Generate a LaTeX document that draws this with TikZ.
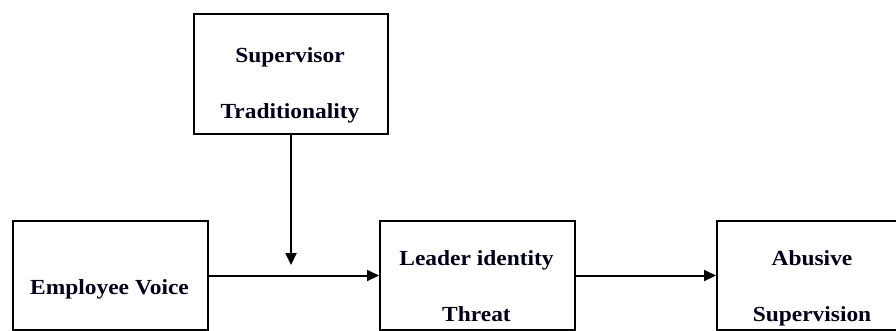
\documentclass[tikz,border=0pt]{standalone}
\usepackage{fontspec}
\setmainfont{Liberation Serif}[FakeStretch=1.09]
\usetikzlibrary{arrows.meta}
\begin{document}
\begin{tikzpicture}[x=1pt,y=-1pt,
  box/.style={draw=black, line width=2pt, fill=white, anchor=north west, inner sep=0pt},
  lbl/.style={font=\fontsize{21.5}{56}\selectfont\bfseries, align=center, anchor=base, inner sep=0pt, text=black!90!blue},
  conn/.style={line width=2pt, -{Triangle[length=12pt,width=11pt]}}]
\useasboundingbox (0,0) rectangle (896,330);
\clip (0,0) rectangle (896,330);
\node[box, minimum width=194pt, minimum height=120pt] (sup) at (193,13) {};
\node[box, minimum width=195pt, minimum height=109pt] (ev) at (12,220) {};
\node[box, minimum width=195pt, minimum height=109pt] (lit) at (379,220) {};
\node[box, minimum width=195pt, minimum height=109pt] (as) at (716,220) {};
\node[lbl] (supt) at (290,118) {Supervisor\\Traditionality};
\node[lbl] (evt) at (109.5,294) {Employee Voice};
\node[lbl] (litt) at (476.5,321) {Leader identity\\Threat};
\node[lbl] (ast) at (812,321) {Abusive\\Supervision};
\coordinate (mod) at (290,265);
\draw[conn] (ev.east) -- (lit.west);
\draw[conn] (sup.south) -- (sup.south |- mod);
\draw[conn] (lit.east) -- (as.west);
\end{tikzpicture}
\end{document}
